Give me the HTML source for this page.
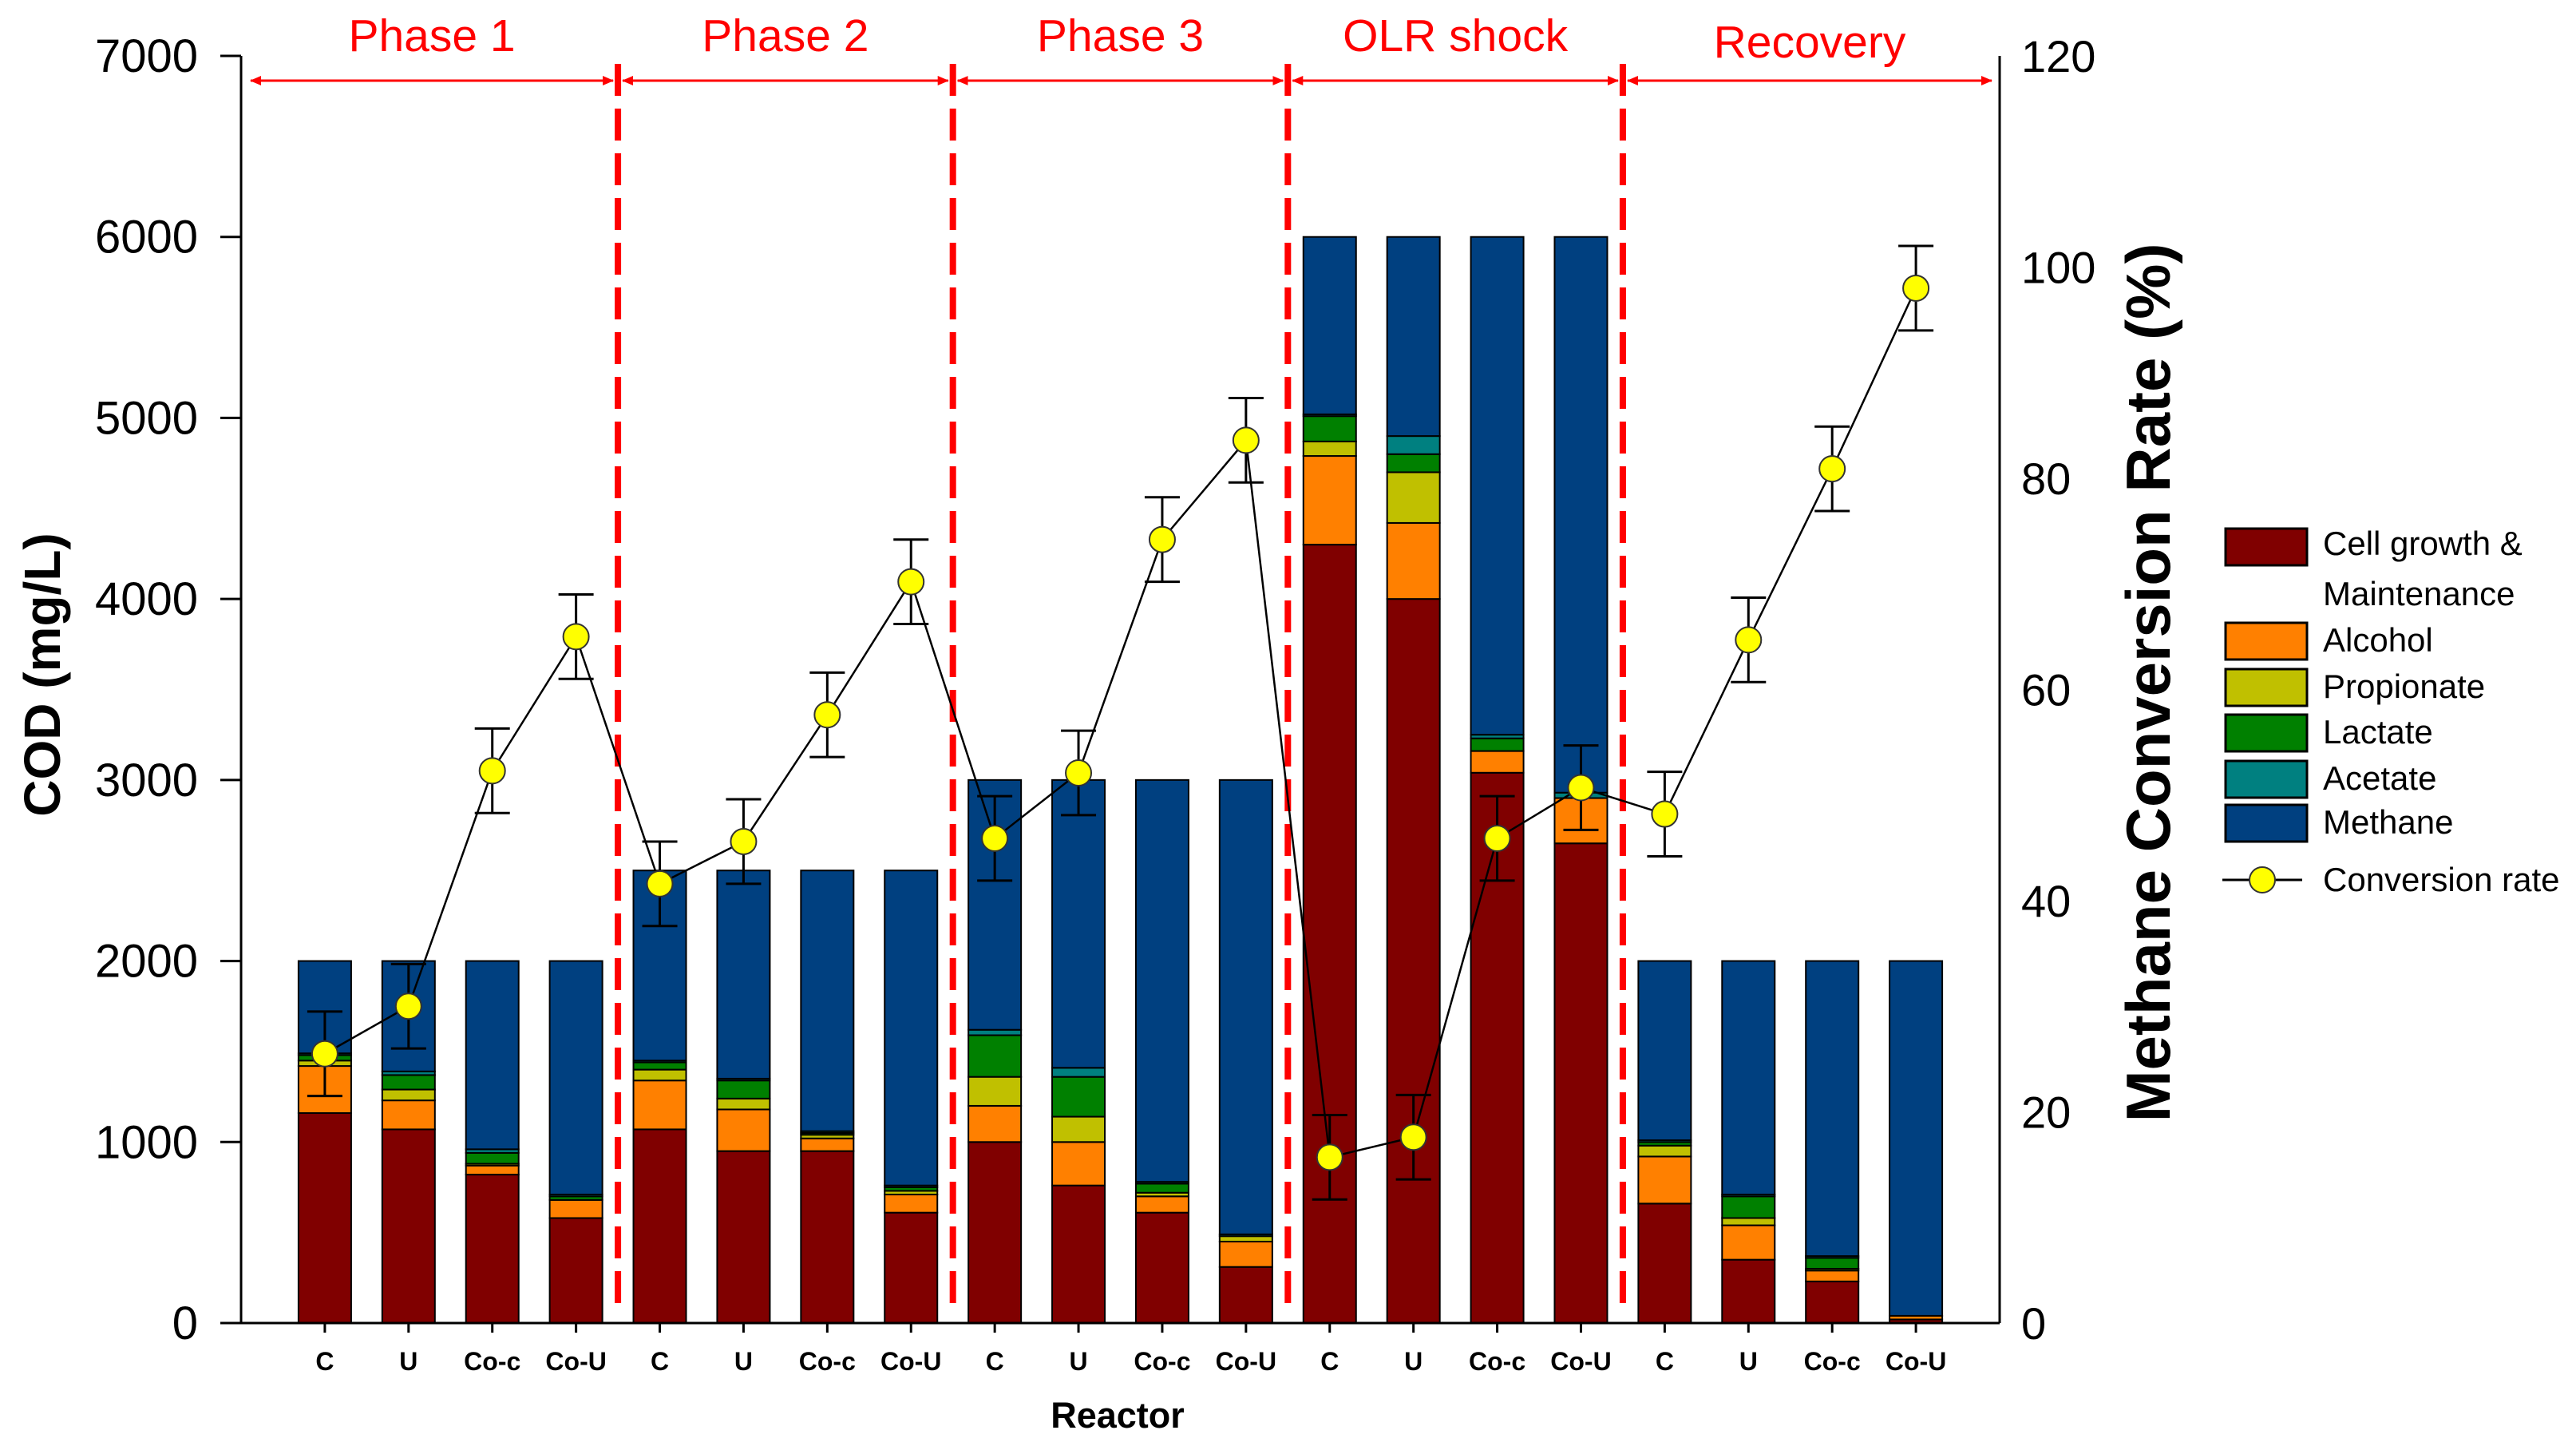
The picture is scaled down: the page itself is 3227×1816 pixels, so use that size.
<!DOCTYPE html>
<html><head><meta charset="utf-8"><style>
html,body{margin:0;padding:0;background:#fff;}
svg{display:block;font-family:"Liberation Sans",sans-serif;}
</style></head><body>
<svg id="chart" width="3227" height="1816" viewBox="0 0 3227 1816" xmlns="http://www.w3.org/2000/svg"></svg>
<script>
const categories = ["C","U","Co-c","Co-U","C","U","Co-c","Co-U","C","U","Co-c","Co-U","C","U","Co-c","Co-U","C","U","Co-c","Co-U"];
const totals = [2000,2000,2000,2000,2500,2500,2500,2500,3000,3000,3000,3000,6000,6000,6000,6000,2000,2000,2000,2000];
const cellGrowth = [1160,1070,820,580,1070,950,950,610,1000,760,610,310,4300,4000,3040,2650,660,350,230,20];
const alcohol = [260,160,50,100,270,230,70,100,200,240,90,140,490,420,120,250,260,190,60,20];
const propionate = [30,60,10,0,60,60,20,20,160,140,20,30,80,280,0,0,60,40,10,0];
const lactate = [30,80,60,20,40,100,10,20,230,220,50,0,140,100,70,0,20,120,60,0];
const acetate = [10,20,20,10,10,10,10,10,30,50,10,10,10,100,20,30,10,10,10,0];
const conversion = [25.5,30,52.3,65,41.6,45.6,57.6,70.2,45.9,52.1,74.2,83.6,15.7,17.6,45.9,50.7,48.2,64.7,80.9,98];
const convErr = [4,4,4,4,4,4,4,4,4,4,4,4,4,4,4,4,4,4,4,4];
const leftTicks = [0,1000,2000,3000,4000,5000,6000,7000];
const rightTicks = [0,20,40,60,80,100,120];
const phases = ["Phase 1","Phase 2","Phase 3","OLR shock","Recovery"];
const seriesNames = ["Cell growth & Maintenance","Alcohol","Propionate","Lactate","Acetate","Methane"];

const colors = ["#800000","#FF8000","#C0C000","#008000","#008080","#004080"];
const NS="http://www.w3.org/2000/svg";
const svg=document.getElementById('chart');
const X0=302, X1=2505, Y0=1657, Y1=70;
const band=(X1-X0)/21;
const xc=i=>X0+(i+1)*band;
const yL=v=>Y0-(v/7000)*(Y0-Y1);
const yR=v=>Y0-(v/120)*(Y0-Y1);
function mk(tag,attrs,parent){const e=document.createElementNS(NS,tag);for(const k in attrs)e.setAttribute(k,attrs[k]);(parent||svg).appendChild(e);return e;}

// bars
const gb=mk('g',{});


const bw=66;
categories.forEach((c,i)=>{
  const segs=[cellGrowth[i],alcohol[i],propionate[i],lactate[i],acetate[i]];
  let sum=segs.reduce((a,b)=>a+b,0);
  segs.push(Math.max(0,totals[i]-sum));
  let base=0;
  segs.forEach((v,s)=>{
    if(v<=0)return;
    const r=mk('rect',{x:xc(i)-bw/2,y:yL(base+v),width:bw,height:yL(base)-yL(base+v),fill:colors[s],stroke:'#000','stroke-width':2},gb);
    
    
    base+=v;
  });
});

// dashed phase separators
for(let k=1;k<5;k++){
  const x=xc(4*k-0.5);
  const l=mk('line',{x1:x,x2:x,y1:80,y2:Y0-10,stroke:'#FF0000','stroke-width':8,'stroke-dasharray':'40 16'});
  
  
}
// phase arrows & labels
const defs=mk('defs',{});
const mkM=(id,d)=>{const m=mk('marker',{id:id,markerWidth:14,markerHeight:12,refX:d==='e'?13:1,refY:6,orient:'auto',markerUnits:'userSpaceOnUse'},defs);mk('path',{d:d==='e'?'M0,0 L14,6 L0,12 Z':'M14,0 L0,6 L14,12 Z',fill:'#FF0000'},m);};
mkM('ae','e');mkM('as','s');
const bounds=[X0+6,xc(3.5),xc(7.5),xc(11.5),xc(15.5),X1-4];
phases.forEach((p,k)=>{
  const a=mk('line',{x1:bounds[k]+6,x2:bounds[k+1]-6,y1:101,y2:101,stroke:'#FF0000','stroke-width':3,'marker-start':'url(#as)','marker-end':'url(#ae)'});
  
  
  const t=mk('text',{x:(bounds[k]+bounds[k+1])/2,y:k===4?72:64,'text-anchor':'middle','font-size':57,fill:'#FF0000'});
  t.textContent=p;
  
  
});

// axes
const ax=mk('g',{stroke:'#000','stroke-width':3});


mk('line',{x1:X0,x2:X0,y1:Y1,y2:Y0},ax);
mk('line',{x1:X1,x2:X1,y1:Y1,y2:Y0},ax);
mk('line',{x1:X0-26,x2:X1,y1:Y0,y2:Y0},ax);
leftTicks.forEach(v=>{
  mk('line',{x1:X0-26,x2:X0,y1:yL(v),y2:yL(v)},ax);
  const t=mk('text',{x:248,y:yL(v)+20,'text-anchor':'end','font-size':58,fill:'#000'});
  t.textContent=v;
  
  
});
rightTicks.forEach(v=>{
  const t=mk('text',{x:2532,y:yR(v)+20,'font-size':56,fill:'#000'});
  t.textContent=v;
  
  
});
categories.forEach((c,i)=>{
  mk('line',{x1:xc(i),x2:xc(i),y1:Y0,y2:Y0+12},ax);
  const t=mk('text',{x:xc(i),y:1716,'text-anchor':'middle','font-size':32,'font-weight':'bold',fill:'#000'});
  t.textContent=c;
  
  
});
let t=mk('text',{x:1400,y:1788,'text-anchor':'middle','font-size':45,'font-weight':'bold'});
t.textContent='Reactor';


t=mk('text',{x:0,y:0,'text-anchor':'middle','font-size':64,'font-weight':'bold',transform:'translate(75,845) rotate(-90)'});
t.textContent='COD (mg/L)';


t=mk('text',{x:0,y:0,'text-anchor':'middle','font-size':78,'font-weight':'bold',transform:'translate(2718,855) rotate(-90)'});
t.textContent='Methane Conversion Rate (%)';



// conversion line
const gl=mk('g',{});


mk('polyline',{points:conversion.map((v,i)=>xc(i)+','+yR(v)).join(' '),fill:'none',stroke:'#000','stroke-width':2.5},gl);
conversion.forEach((v,i)=>{
  const x=xc(i),hi=yR(v+convErr[i]),lo=yR(v-convErr[i]);
  mk('path',{d:`M${x},${hi}V${lo}M${x-22},${hi}H${x+22}M${x-22},${lo}H${x+22}`,stroke:'#000','stroke-width':3,fill:'none'},gl);
  const c=mk('circle',{cx:x,cy:yR(v),r:16,fill:'#FFFF00',stroke:'#333','stroke-width':2},gl);
  
  
});

// legend
const lg=mk('g',{});


const boxY=[662,780,838,895,953,1008];
const labY=[695,816,874,931,989,1044];
seriesNames.forEach((n,s)=>{
  const r=mk('rect',{x:2788,y:boxY[s],width:102,height:46,fill:colors[s],stroke:'#000','stroke-width':3},lg);
  
  
  const tx=mk('text',{x:2910,y:labY[s],'font-size':42,fill:'#000'},lg);
  tx.textContent=s===0?'Cell growth &':n;
  
  
});
t=mk('text',{x:2910,y:758,'font-size':42,fill:'#000'},lg);
t.textContent='Maintenance';


mk('line',{x1:2784,x2:2884,y1:1102,y2:1102,stroke:'#000','stroke-width':3},lg);
mk('circle',{cx:2834,cy:1102,r:16,fill:'#FFFF00',stroke:'#333','stroke-width':2},lg);
t=mk('text',{x:2910,y:1116,'font-size':42,fill:'#000'},lg);
t.textContent='Conversion rate';


</script>
</body></html>
